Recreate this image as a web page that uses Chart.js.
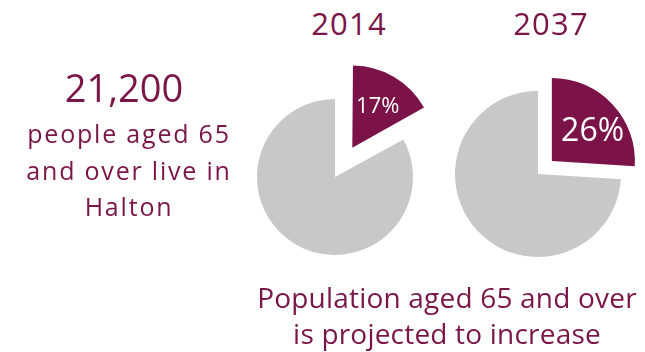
<!DOCTYPE html>
<html>
<head>
<meta charset="utf-8">
<script src="https://cdn.jsdelivr.net/npm/chart.js@4/dist/chart.umd.min.js"></script>
<style>
  body { margin: 0; background: #fff; }
  #wrap { position: relative; width: 645px; height: 352px; overflow: hidden; background: #fff;
          font-family: "Open Sans", sans-serif; color: #7a1548; }
  .txt { position: absolute; text-align: center; white-space: nowrap; z-index: 2; }
  canvas { position: absolute; z-index: 1; }
</style>
</head>
<body>
<div id="wrap">
  <div class="txt" id="year0" style="left:289px; top:3px; width:120px; font-size:31px; line-height:40px; letter-spacing:1.2px;"></div>
  <div class="txt" id="year1" style="left:491px; top:3px; width:120px; font-size:31px; line-height:40px; letter-spacing:1.2px;"></div>

  <div class="txt" style="left:24px; top:62px; width:200px; font-size:38px; line-height:50px;">21,200</div>
  <div class="txt" style="left:9px; top:115px; width:240px; font-size:25px; line-height:36.5px; letter-spacing:1.8px;">
    people aged 65<br>and over live in<br>Halton</div>

  <div class="txt" style="left:247px; top:279px; width:400px; font-size:28px; line-height:36px; letter-spacing:0.2px;">
    Population aged 65 and over<br>is projected to increase</div>

  <canvas id="pie0" width="230" height="230" style="left:220px; top:62px;"></canvas>
  <canvas id="pie1" width="230" height="230" style="left:423px; top:59px;"></canvas>
</div>
<script>
// data
var years = ['2014', '2037'];
var share_65_over = [17, 26];          // % of population aged 65+
var slice_labels = ['Aged 65 and over', 'Under 65'];

var maroon = '#7b1248';
var grey = '#c8c8c8';

// per pie look
var radii = [78, 83];
var offsets = [34, 19];          // px the maroon slice is pulled out
var label_sizes = [22, 32];
var label_r = [0.64, 0.62];      // % text distance, as part of the radius
var label_turn = [0, 4];         // degrees, nudge of the % text round the slice

// draws the % text inside the maroon slice
var pctLabel = {
    id: 'pctLabel',
    afterDatasetsDraw: function(chart) {
        var k = chart.options.plugins.pctLabel.k;
        var arc = chart.getDatasetMeta(0).data[0];
        var mid = (arc.startAngle + arc.endAngle) / 2 + label_turn[k] * Math.PI / 180;
        var r = offsets[k] + radii[k] * label_r[k];
        var ctx = chart.ctx;
        ctx.save();
        ctx.fillStyle = '#fff';
        ctx.font = label_sizes[k] + 'px "Open Sans", sans-serif';
        ctx.textAlign = 'center';
        ctx.textBaseline = 'middle';
        ctx.fillText(share_65_over[k] + '%', arc.x + Math.cos(mid) * r, arc.y + Math.sin(mid) * r + 2);
        ctx.restore();
    }
};

function makePie(k)
{
    document.getElementById('year' + k).textContent = years[k];
    var ctx = document.getElementById('pie' + k).getContext('2d');
    return new Chart(ctx, {
        type: 'pie',
        data: {
            labels: slice_labels,
            datasets: [{
                data: [share_65_over[k], 100 - share_65_over[k]],
                backgroundColor: [maroon, grey],
                borderWidth: 0,
                // chart.js moves an arc by offset/4
                offset: [offsets[k] * 4, 0],
                radius: radii[k]
            }]
        },
        options: {
            responsive: false,
            animation: false,
            plugins: {
                legend: { display: false },
                tooltip: { enabled: false },
                pctLabel: { k: k }
            }
        },
        plugins: [pctLabel]
    });
}

var charts = [];
for (i = 0; i < years.length; i++)
    charts.push(makePie(i));
</script>
</body>
</html>
